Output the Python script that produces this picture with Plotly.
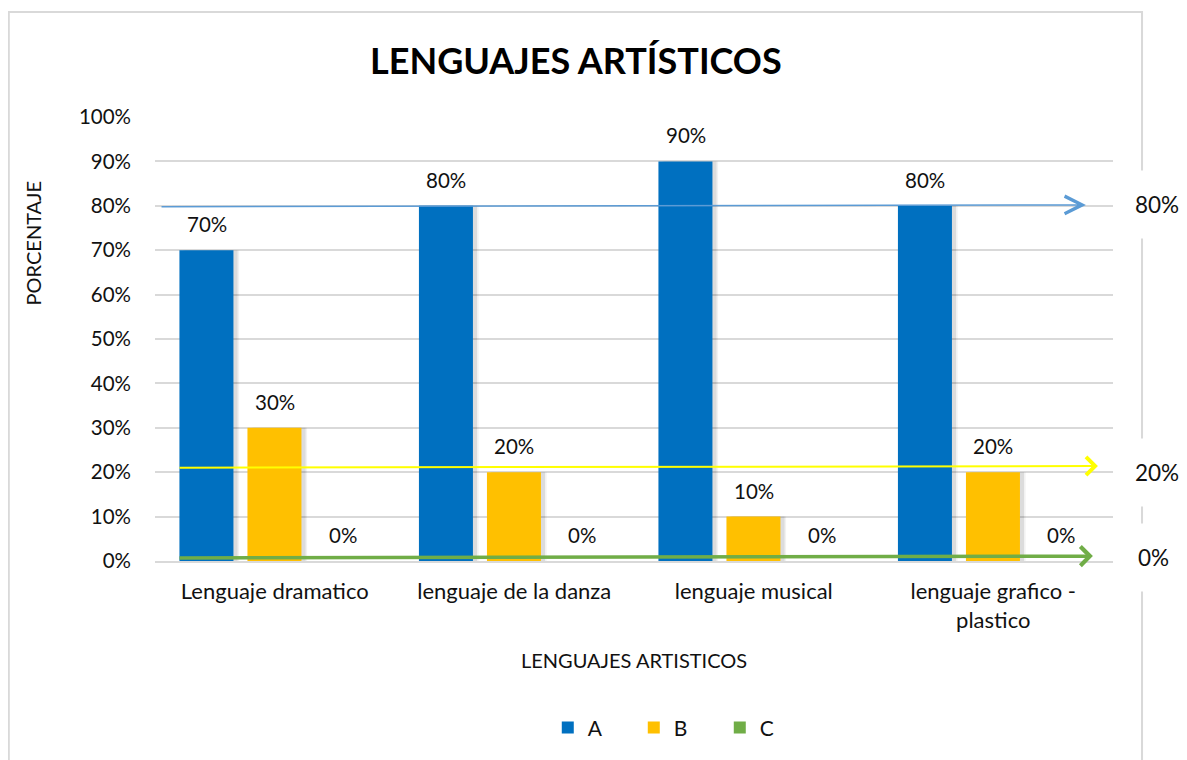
import plotly.graph_objects as go

# ---------------- data ----------------
categories = ["Lenguaje dramatico", "lenguaje de la danza", "lenguaje musical",
              "lenguaje grafico -<br>plastico"]
series_names = ["A", "B", "C"]
values_a = [0.70, 0.80, 0.90, 0.80]
values_b = [0.30, 0.20, 0.10, 0.20]
values_c = [0.00, 0.00, 0.00, 0.00]
y_tick_values = [0.0, 0.1, 0.2, 0.3, 0.4, 0.5, 0.6, 0.7, 0.8, 0.9, 1.0]
y_tick_labels = ["0%", "10%", "20%", "30%", "40%", "50%", "60%", "70%", "80%", "90%", "100%"]
title_text = "LENGUAJES ARTÍSTICOS"
x_title = "LENGUAJES ARTISTICOS"
y_title = "PORCENTAJE"
# hand-drawn arrows and their labels (level at start, level at end)
arrow_levels = [(0.798, 0.802), (0.210, 0.214), (0.007, 0.011)]
arrow_labels = ["80%", "20%", "0%"]

colors = ["#0070C0", "#FFC000", "#70AD47"]
FONT = "Lato, 'Open Sans', sans-serif"
TXT = "#111111"

# bar geometry (styling): width and per-series offsets in category units
BAR_W = 0.2255
OFFSETS = [-0.398, -0.114, 0.170]
SHADOW_DX = 0.017

fig = go.Figure()
all_values = [values_a, values_b, values_c]
# soft shadows first (drawn underneath)
for vals, off in zip(all_values[:2], OFFSETS[:2]):
    for k, (dx, alpha) in enumerate([(SHADOW_DX * 1.4, 0.05), (SHADOW_DX, 0.09)]):
        fig.add_trace(go.Bar(x=categories, y=vals, width=BAR_W, offset=off + dx,
                             marker=dict(color=f"rgba(0,0,0,{alpha})", line=dict(width=0)),
                             showlegend=False, hoverinfo="skip"))
for name, vals, col, off in zip(series_names, all_values, colors, OFFSETS):
    fig.add_trace(go.Bar(name=name, x=categories, y=vals, width=BAR_W, offset=off,
                         marker=dict(color=col, line=dict(width=0))))

annotations = []
# data labels above bars
shifts = [-68, 0, 68]
for vals, xs in zip(all_values, shifts):
    for c, v in zip(categories, vals):
        annotations.append(dict(x=c, y=v, xref="x", yref="y", text=f"{round(v*100)}%",
                                showarrow=False, xshift=xs, yshift=26,
                                xanchor="center", yanchor="middle",
                                font=dict(size=20.5, color=TXT, family=FONT)))

# arrows
arrow_cfg = [
    dict(color="#5B9BD5", width=1.5, head=5, size=2.3, x0=-0.479, x1=3.387),
    dict(color="#FFFF00", width=2, head=4, size=1.75, x0=-0.404, x1=3.437),
    dict(color="#70AD47", width=3.5, head=4, size=1.05, x0=-0.404, x1=3.416),
]
for (y0, y1), cfg in zip(arrow_levels, arrow_cfg):
    annotations.append(dict(x=cfg["x1"], y=y1, ax=cfg["x0"], ay=y0,
                            xref="x", yref="y", axref="x", ayref="y",
                            text="", showarrow=True, arrowhead=cfg["head"],
                            arrowsize=cfg["size"], arrowwidth=cfg["width"],
                            arrowcolor=cfg["color"], standoff=0, startstandoff=0))

# right-side labels
label_x = [1.046, 1.046, 1.042]
label_shift = [0, -7, -1]
for (y0, y1), lab, lx, sh in zip(arrow_levels, arrow_labels, label_x, label_shift):
    annotations.append(dict(x=lx, y=y1, xref="paper", yref="y", text=lab,
                            showarrow=False, bgcolor="white", borderpad=20,
                            yshift=sh, xanchor="center", yanchor="middle",
                            font=dict(size=22.5, color=TXT, family=FONT)))

# axis titles
annotations.append(dict(x=0.5, y=-0.223, xref="paper", yref="paper", text=x_title,
                        showarrow=False, xanchor="center", yanchor="middle",
                        font=dict(size=20, color=TXT, family=FONT)))
annotations.append(dict(x=-0.127, y=0.716, xref="paper", yref="paper", text=y_title,
                        textangle=-90, showarrow=False, xanchor="center", yanchor="middle",
                        font=dict(size=20, color=TXT, family=FONT)))
# title
annotations.append(dict(x=0.4395, y=1.128, xref="paper", yref="paper",
                        text=f"<b>{title_text}</b>", showarrow=False,
                        xanchor="center", yanchor="middle",
                        font=dict(size=36, color="#000000", family=FONT)))

fig.update_layout(
    width=1187, height=760,
    margin=dict(l=147, r=82, t=109, b=207),
    paper_bgcolor="white", plot_bgcolor="white",
    barmode="overlay",
    font=dict(family=FONT, color=TXT, size=18),
    showlegend=True,
    legend=dict(orientation="h", x=0.410, xanchor="left", y=-0.376, yanchor="middle",
                entrywidth=41, entrywidthmode="pixels", itemclick=False,
                font=dict(size=21, color=TXT, family=FONT), bgcolor="rgba(0,0,0,0)"),
    annotations=annotations,
    shapes=[dict(type="rect", xref="paper", yref="paper", x0=-0.1526, x1=1.0303,
                 y0=-0.55, y1=1.2365, line=dict(color="#D9D9D9", width=2),
                 fillcolor="rgba(0,0,0,0)", layer="below")],
)
fig.update_yaxes(range=[0, 1], tickvals=y_tick_values, ticktext=y_tick_labels,
                 showgrid=True, gridcolor="#D9D9D9", gridwidth=1.5,
                 zeroline=False, showline=False, ticks="", ticklabelstandoff=23,
                 tickfont=dict(size=20.5, color=TXT, family=FONT))
fig.update_xaxes(showline=True, linecolor="#D9D9D9", linewidth=2, ticks="",
                 ticklabelstandoff=10, tickangle=0,
                 tickfont=dict(size=22, color=TXT, family=FONT))

fig.write_html("out.html")
